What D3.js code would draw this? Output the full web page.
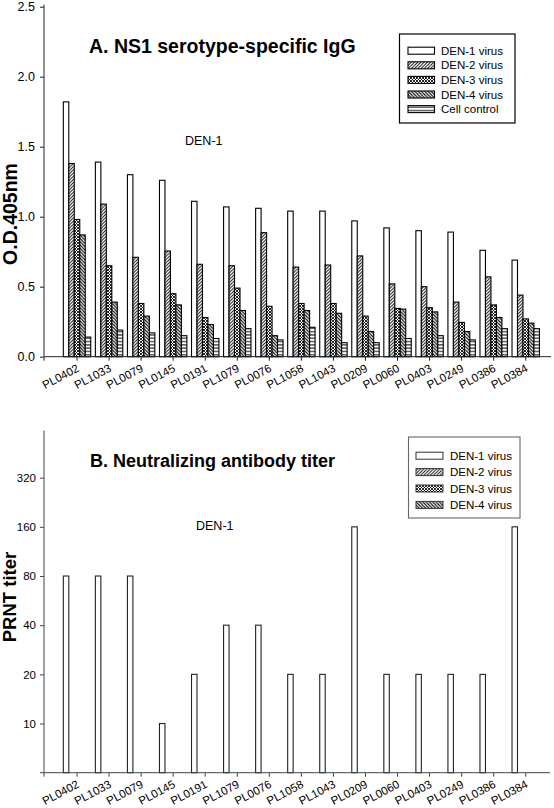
<!DOCTYPE html>
<html><head><meta charset="utf-8">
<script src="https://cdn.jsdelivr.net/npm/d3@7"></script>
<style>
html,body{margin:0;padding:0;background:#fff;}
svg{display:block;font-family:"Liberation Sans",Arial,sans-serif;}
</style></head>
<body>
<svg id="chart" width="554" height="808"></svg>
<script>
// ---------- data ----------
const categories = ["PL0402","PL1033","PL0079","PL0145","PL0191","PL1079","PL0076","PL1058","PL1043","PL0209","PL0060","PL0403","PL0249","PL0386","PL0384"];
const seriesA = ["DEN-1 virus","DEN-2 virus","DEN-3 virus","DEN-4 virus","Cell control"];
const seriesB = ["DEN-1 virus","DEN-2 virus","DEN-3 virus","DEN-4 virus"];
const den1OD = [1.82,1.39,1.30,1.26,1.11,1.07,1.06,1.04,1.04,0.97,0.92,0.90,0.89,0.76,0.69];
const den2OD = [1.38,1.09,0.71,0.755,0.66,0.65,0.886,0.64,0.655,0.72,0.52,0.50,0.39,0.57,0.44];
const den3OD = [0.98,0.65,0.38,0.45,0.28,0.49,0.36,0.38,0.38,0.29,0.345,0.35,0.245,0.37,0.27];
const den4OD = [0.87,0.39,0.29,0.37,0.23,0.33,0.15,0.33,0.31,0.18,0.34,0.32,0.18,0.28,0.24];
const cellOD = [0.14,0.19,0.17,0.15,0.13,0.20,0.12,0.21,0.10,0.10,0.13,0.15,0.12,0.20,0.20];
const prntDEN1 = [80,80,80,10,20,40,40,20,20,160,20,20,20,20,160];
const odTicks = [0,0.5,1.0,1.5,2.0,2.5];
const prntTicks = [10,20,40,80,160,320];
const titleA = "A. NS1 serotype-specific IgG";
const titleB = "B. Neutralizing antibody titer";
const noteText = "DEN-1";

// ---------- setup ----------
const svg = d3.select("#chart");
const defs = svg.append("defs");
function mkPat(id, size, draw){
  const p = defs.append("pattern").attr("id", id).attr("patternUnits","userSpaceOnUse")
    .attr("width", size).attr("height", size);
  p.append("rect").attr("width", size).attr("height", size).attr("fill","#fff");
  draw(p, size);
}
mkPat("p2", 3.2, (p,s)=>{
  p.append("path").attr("d",`M0,${s} L${s},0 M${-s/2},${s/2} L${s/2},${-s/2} M${s/2},${s*1.5} L${s*1.5},${s/2}`).attr("stroke","#000").attr("stroke-width",0.9);
});
mkPat("p3", 3, (p,s)=>{
  p.append("path").attr("d",`M0,${s} L${s},0 M${-s/2},${s/2} L${s/2},${-s/2} M${s/2},${s*1.5} L${s*1.5},${s/2} M0,0 L${s},${s} M${-s/2},${s/2} L${s/2},${s*1.5} M${s/2},${-s/2} L${s*1.5},${s/2}`).attr("stroke","#000").attr("stroke-width",0.85);
});
mkPat("p4", 3.3, (p,s)=>{
  p.append("path").attr("d",`M0,0 L${s},${s} M${-s/2},${s/2} L${s/2},${s*1.5} M${s/2},${-s/2} L${s*1.5},${s/2}`).attr("stroke","#000").attr("stroke-width",1.05);
});
mkPat("p5", 3.3, (p,s)=>{
  p.append("path").attr("d",`M0,${s/2} L${s},${s/2}`).attr("stroke","#000").attr("stroke-width",1);
});
const fills = ["#fff","url(#p2)","url(#p3)","url(#p4)","url(#p5)"];

const x = d3.scaleBand().domain(categories).range([61, 541.75]).paddingInner(0.145).paddingOuter(0.0725);
const xs = d3.scaleBand().domain(seriesA).range([0, x.bandwidth()]);
const FONT = "Liberation Sans, Arial, sans-serif";

// ---------- Panel A ----------
const yA = d3.scaleLinear().domain([0, 2.5]).range([356.7, 6.7]);
const valuesA = [den1OD, den2OD, den3OD, den4OD, cellOD];
const gA = svg.append("g");
seriesA.forEach((s, si) => {
  gA.append("g").selectAll("rect").data(categories).join("rect")
    .attr("x", c => x(c) + xs(s))
    .attr("width", xs.bandwidth())
    .attr("y", (c,i) => yA(valuesA[si][i]))
    .attr("height", (c,i) => yA(0) - yA(valuesA[si][i]))
    .attr("fill", fills[si]).attr("stroke","#000").attr("stroke-width",1.1);
});
const axYA = gA.append("g").attr("transform","translate(44,0)")
  .call(d3.axisLeft(yA).tickValues(odTicks).tickFormat(d3.format(".1f")).tickSize(4).tickPadding(5).tickSizeOuter(0));
axYA.select(".domain").attr("d", `M0,${yA(2.5)-2}V${yA(0)}`);
axYA.selectAll("text").attr("font-size","12.5px").attr("fill","#000").attr("font-family",FONT);
axYA.selectAll("line,path").attr("stroke","#222");

const axXA = gA.append("g").attr("transform",`translate(0,${yA(0)})`)
  .call(d3.axisBottom(x).tickSize(4).tickSizeOuter(0));
axXA.select(".domain").attr("d","M44,0H551");
axXA.selectAll("line,path").attr("stroke","#222");
axXA.selectAll(".tick text").attr("font-size","11.5px").attr("fill","#000")
  .attr("font-family",FONT)
  .attr("text-anchor","end").attr("dy",null).attr("y",null)
  .attr("transform","translate(3,14) rotate(-28)");
gA.append("line").attr("x1",44).attr("x2",44).attr("y1",yA(0)).attr("y2",yA(0)+4).attr("stroke","#222");

gA.append("text").attr("x",89).attr("y",53).attr("font-size","19.5px").attr("font-weight","bold").text(titleA);
gA.append("text").attr("x",185).attr("y",145).attr("font-size","12.5px").text(noteText);
gA.append("text").attr("transform","translate(17,214) rotate(-90)").attr("text-anchor","middle")
  .attr("font-size","19.5px").attr("font-weight","bold").text("O.D.405nm");

// legend A
const lgA = gA.append("g");
lgA.append("rect").attr("x",399.5).attr("y",34).attr("width",115.5).attr("height",89).attr("fill","#fff").attr("stroke","#000").attr("stroke-width",1.2);
seriesA.forEach((s,i)=>{
  const cy = 50.7 + i*14.6;
  lgA.append("rect").attr("x",408).attr("y",cy-3.5).attr("width",26.5).attr("height",7).attr("fill",fills[i]).attr("stroke","#000").attr("stroke-width",1.1);
  lgA.append("text").attr("x",441).attr("y",cy).attr("dy","0.36em").attr("font-size","11.5px").text(s);
});

// ---------- Panel B ----------
const yB = d3.scaleLog().base(2).domain([5, 640]).range([772.7, 428.5]);
const gB = svg.append("g");
gB.append("g").selectAll("rect").data(categories).join("rect")
  .attr("x", c => x(c) + xs(seriesB[0]))
  .attr("width", xs.bandwidth())
  .attr("y", (c,i) => yB(prntDEN1[i]))
  .attr("height", (c,i) => yB(5) - yB(prntDEN1[i]))
  .attr("fill","#fff").attr("stroke","#222").attr("stroke-width",1.1);

const axYB = gB.append("g").attr("transform","translate(44,0)")
  .call(d3.axisLeft(yB).tickValues(prntTicks).tickFormat(d3.format("d")).tickSize(4).tickPadding(4).tickSizeOuter(0));
axYB.select(".domain").attr("d", `M0,${yB(640)+2}V${yB(5)}`);
axYB.selectAll("text").attr("font-size","11.5px").attr("fill","#000").attr("font-family",FONT);
axYB.selectAll("line,path").attr("stroke","#444");

const axXB = gB.append("g").attr("transform",`translate(0,${yB(5)})`)
  .call(d3.axisBottom(x).tickSize(4).tickSizeOuter(0));
axXB.select(".domain").attr("d","M40,0H550");
axXB.selectAll("line,path").attr("stroke","#444");
axXB.selectAll(".tick text").attr("font-size","11.5px").attr("fill","#000")
  .attr("font-family",FONT)
  .attr("text-anchor","end").attr("dy",null).attr("y",null)
  .attr("transform","translate(3,14) rotate(-28)");
gB.append("line").attr("x1",44).attr("x2",44).attr("y1",yB(5)).attr("y2",yB(5)+4).attr("stroke","#444");

gB.append("text").attr("x",90).attr("y",466.7).attr("font-size","18px").attr("font-weight","bold").text(titleB);
gB.append("text").attr("x",196).attr("y",530).attr("font-size","12.5px").text(noteText);
gB.append("text").attr("transform","translate(16,597) rotate(-90)").attr("text-anchor","middle")
  .attr("font-size","18.5px").attr("font-weight","bold").text("PRNT titer");

const lgB = gB.append("g");
lgB.append("rect").attr("x",408.5).attr("y",437).attr("width",111.5).attr("height",81).attr("fill","#fff").attr("stroke","#666").attr("stroke-width",1.1);
seriesB.forEach((s,i)=>{
  const cy = 455.7 + i*16.4;
  lgB.append("rect").attr("x",416).attr("y",cy-3.5).attr("width",27).attr("height",7).attr("fill",fills[i]).attr("stroke","#333").attr("stroke-width",1);
  lgB.append("text").attr("x",450).attr("y",cy).attr("dy","0.36em").attr("font-size","11.5px").text(s);
});
</script>
</body></html>
